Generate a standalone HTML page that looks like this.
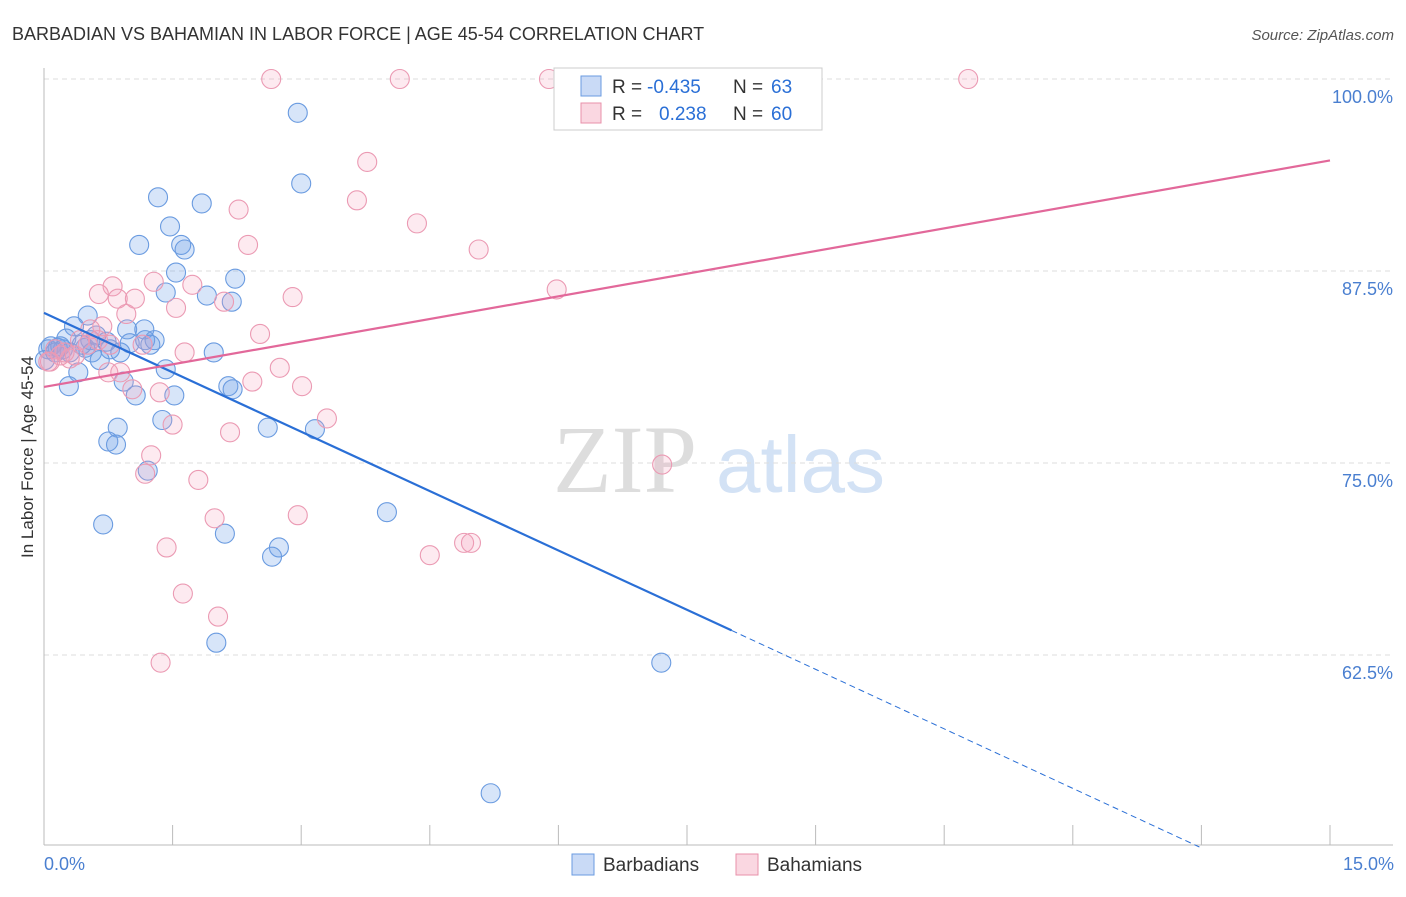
<!DOCTYPE html>
<html><head><meta charset="utf-8"><style>
body{margin:0;background:#fff;font-family:"Liberation Sans",sans-serif}
</style></head><body>
<svg id="chart" width="1406" height="892" xmlns="http://www.w3.org/2000/svg" font-family="Liberation Sans, sans-serif">
<text x="12" y="40" font-size="18" fill="#333">BARBADIAN VS BAHAMIAN IN LABOR FORCE | AGE 45-54 CORRELATION CHART</text>
<text x="1394" y="40" font-size="15" fill="#555" text-anchor="end" font-style="italic">Source: ZipAtlas.com</text>
<g font-size="96"><text x="553" y="492" fill="#ddd" font-family="Liberation Serif, serif">ZIP</text><text x="716" y="492" fill="#d3e2f5" font-size="80">atlas</text></g>
<g id="grid"></g><g id="axes"></g><g id="pts"></g><g id="trends"></g>
<text transform="translate(33,457) rotate(-90)" font-size="17" fill="#333" text-anchor="middle">In Labor Force | Age 45-54</text>
<text x="44" y="870" font-size="18" fill="#4a7fd0">0.0%</text>
<text x="1394" y="870" font-size="18" fill="#4a7fd0" text-anchor="end">15.0%</text>
<g>
<rect x="554" y="68" width="268" height="62" fill="#fff" stroke="#ccc"/>
<rect x="581" y="76" width="20" height="20" fill="rgba(100,150,230,0.35)" stroke="#6a9be0"/>
<rect x="581" y="103" width="20" height="20" fill="rgba(240,140,170,0.35)" stroke="#e890aa"/>
<text y="93" font-size="19" fill="#333"><tspan x="612">R =</tspan><tspan x="647" fill="#2a6fd6">-0.435</tspan><tspan x="733">N =</tspan><tspan x="771" fill="#2a6fd6">63</tspan></text>
<text y="120" font-size="19" fill="#333"><tspan x="612">R =</tspan><tspan x="659" fill="#2a6fd6">0.238</tspan><tspan x="733">N =</tspan><tspan x="771" fill="#2a6fd6">60</tspan></text>
</g>
<g>
<rect x="572" y="854" width="22" height="21" fill="rgba(100,150,230,0.35)" stroke="#6a9be0"/>
<text x="603" y="871" font-size="19" fill="#333">Barbadians</text>
<rect x="736" y="854" width="22" height="21" fill="rgba(240,140,170,0.35)" stroke="#e890aa"/>
<text x="767" y="871" font-size="19" fill="#333">Bahamians</text>
</g>
</svg>
<script>
const blueX=[2.96,3.00,1.33,1.84,1.47,1.11,1.60,1.64,1.54,2.23,1.42,1.90,2.19,0.51,0.35,0.97,1.17,0.26,0.61,0.73,1.00,1.18,1.29,0.08,0.16,0.22,0.48,0.77,0.89,0.56,1.98,0.65,0.40,1.42,0.29,0.93,2.15,2.20,1.07,1.52,1.38,2.61,3.16,0.86,0.75,0.84,1.21,4.00,0.69,2.11,2.74,2.66,2.01,7.20,5.21,0.05,0.13,0.30,0.54,0.01,0.19,0.44,1.24];
const blueY=[97.8,93.2,92.3,91.9,90.4,89.2,89.2,88.9,87.4,87.0,86.1,85.9,85.5,84.6,83.9,83.7,83.7,83.1,83.3,82.9,82.8,83.0,83.0,82.6,82.5,82.4,82.5,82.4,82.2,82.2,82.2,81.7,80.9,81.1,80.0,80.3,80.0,79.8,79.4,79.4,77.8,77.3,77.2,77.3,76.4,76.2,74.5,71.8,71.0,70.4,69.5,68.9,63.3,62.0,53.5,82.4,82.2,82.2,83.0,81.7,82.6,82.7,82.7];
const pinkX=[2.65,4.15,5.89,10.78,3.77,3.65,2.27,4.35,2.38,5.07,5.98,1.28,0.80,0.64,1.73,0.86,1.06,2.10,2.90,1.54,0.96,0.68,0.54,2.52,0.42,1.15,1.64,0.19,0.30,0.07,2.75,0.75,0.89,2.43,3.01,1.35,1.03,3.30,1.50,2.17,1.25,1.18,1.80,7.21,1.99,2.96,1.43,4.50,4.90,4.98,1.62,2.03,1.36,0.13,0.24,0.36,0.51,0.63,0.77,0.05];
const pinkY=[100,100,100,100,94.6,92.1,91.5,90.6,89.2,88.9,86.3,86.8,86.5,86.0,86.6,85.7,85.7,85.5,85.8,85.1,84.7,83.9,83.7,83.4,83.0,82.7,82.2,82.0,81.8,81.6,81.2,80.9,80.9,80.3,80.0,79.6,79.8,77.9,77.5,77.0,75.5,74.3,73.9,74.9,71.4,71.6,69.5,69.0,69.8,69.8,66.5,65.0,62.0,82.4,82.2,82.0,82.7,83.0,82.7,81.6];
const yTicks=[100,87.5,75,62.5];
const yTickLabels=["100.0%","87.5%","75.0%","62.5%"];
const blueTrend={x0:0,y0:84.77,x1:8.02,y1:64.1,xEnd:15,slope:-2.58};
const pinkTrend={x0:0,y0:79.95,x1:15,y1:94.7};
const L=44,R=1330,T=79,B=845;
const sx=v=>L+(v/15)*(R-L);
const sy=v=>T+(100-v)/12.5*192;
const NS="http://www.w3.org/2000/svg";
function mk(tag,attrs,parent){const e=document.createElementNS(NS,tag);for(const k in attrs)e.setAttribute(k,attrs[k]);parent.appendChild(e);return e;}
const grid=document.getElementById('grid'),axes=document.getElementById('axes'),pts=document.getElementById('pts'),tr=document.getElementById('trends');
yTicks.forEach((t,i)=>{
 const g=mk('line',{x1:L,x2:1393,y1:sy(t),y2:sy(t),stroke:'#ddd','stroke-dasharray':'5,4'},grid);
 
 
 const tx=mk('text',{x:1393,y:sy(t)+24,'font-size':18,fill:'#4a7fd0','text-anchor':'end'},grid);
 tx.textContent=yTickLabels[i];
 
 
});
const ax=mk('line',{x1:L,x2:1393,y1:B,y2:B,stroke:'#bbb'},axes);


const ay=mk('line',{x1:L,x2:L,y1:68,y2:B,stroke:'#bbb'},axes);


for(let i=0;i<=10;i++){const t=mk('line',{x1:sx(i*1.5),x2:sx(i*1.5),y1:825,y2:B,stroke:'#bbb'},axes);
 
 }
blueX.forEach((x,i)=>{const c=mk('circle',{cx:sx(x),cy:sy(blueY[i]),r:9.5,fill:'rgba(110,160,235,0.28)',stroke:'#6a9be0','stroke-width':1.1},pts);
 
 });
pinkX.forEach((x,i)=>{const c=mk('circle',{cx:sx(x),cy:sy(pinkY[i]),r:9.5,fill:'rgba(245,160,185,0.22)',stroke:'#eb9ab3','stroke-width':1.1},pts);
 
 });
const bl=mk('line',{x1:sx(blueTrend.x0),y1:sy(blueTrend.y0),x2:sx(blueTrend.x1),y2:sy(blueTrend.y1),stroke:'#2a6fd6','stroke-width':2.2},tr);


const xb=blueTrend.x0+(50-blueTrend.y0)/blueTrend.slope;
const bd=mk('line',{x1:sx(blueTrend.x1),y1:sy(blueTrend.y1),x2:sx(Math.min(xb,blueTrend.xEnd)),y2:sy(blueTrend.y0+blueTrend.slope*Math.min(xb,blueTrend.xEnd)),stroke:'#2a6fd6','stroke-width':1,'stroke-dasharray':'6,4'},tr);


const pl=mk('line',{x1:sx(pinkTrend.x0),y1:sy(pinkTrend.y0),x2:sx(pinkTrend.x1),y2:sy(pinkTrend.y1),stroke:'#e2689a','stroke-width':2.2},tr);


</script>
</body></html>
